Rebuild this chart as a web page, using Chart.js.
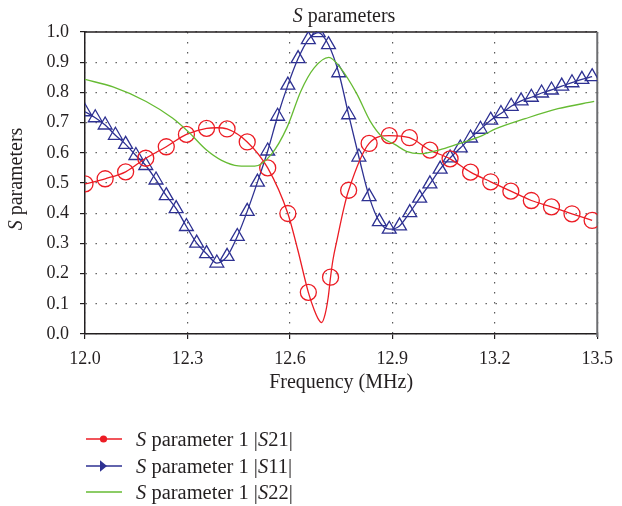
<!DOCTYPE html>
<html><head><meta charset="utf-8">
<script src="https://cdn.jsdelivr.net/npm/chart.js@4.4.1/dist/chart.umd.min.js"></script>
<style>
html,body{margin:0;padding:0;background:#fff;}
#wrap{position:relative;width:622px;height:506px;overflow:hidden;font-family:"Liberation Serif","DejaVu Serif",serif;color:#231f20;}
#c{position:absolute;left:0;top:0;}
.title{position:absolute;left:244px;top:3px;width:200px;text-align:center;font-size:20px;line-height:24px;white-space:nowrap;}
.ytitle{position:absolute;left:-85px;top:167px;width:200px;height:24px;text-align:center;font-size:20px;line-height:24px;transform:rotate(-90deg);white-space:nowrap;}
.leg{position:absolute;left:84px;width:320px;height:24px;line-height:24px;font-size:20.5px;white-space:nowrap;}
.leg svg{position:absolute;left:0;top:0;}
.leg span{position:absolute;left:52px;top:0;}
</style></head>
<body>
<div id="wrap">
<canvas id="c" width="622" height="506"></canvas>
<div class="title"><i>S</i> parameters</div>
<div class="ytitle"><i>S</i> parameters</div>
<div class="leg" style="top:427px"><svg width="44" height="24"><line x1="2" y1="12" x2="38" y2="12" stroke="#ec1c24" stroke-width="1.4"/><circle cx="19.5" cy="12" r="3.6" fill="#ec1c24"/></svg><span><i>S</i> parameter 1 |<i>S</i>21|</span></div>
<div class="leg" style="top:454px"><svg width="44" height="24"><line x1="2" y1="12" x2="38" y2="12" stroke="#2e3192" stroke-width="1.4"/><polygon points="16,6.2 23,12 16,17.8" fill="#2e3192"/></svg><span><i>S</i> parameter 1 |<i>S</i>11|</span></div>
<div class="leg" style="top:480px"><svg width="44" height="24"><line x1="2" y1="12" x2="38" y2="12" stroke="#66bb33" stroke-width="1.4"/></svg><span><i>S</i> parameter 1 |<i>S</i>22|</span></div>
</div>
<script>
// ---- data ----
const xTickValues = [12.0, 12.3, 12.6, 12.9, 13.2, 13.5];
const yTickValues = [0.0, 0.1, 0.2, 0.3, 0.4, 0.5, 0.6, 0.7, 0.8, 0.9, 1.0];

// |S21| markers (circles)
const s21MarkFreq = [12.000,12.059,12.119,12.178,12.238,12.297,12.356,12.416,12.475,12.535,12.594,12.654,12.719,12.772,12.832,12.891,12.950,13.010,13.069,13.129,13.188,13.247,13.307,13.366,13.426,13.485];
const s21Mark     = [0.497,0.514,0.537,0.582,0.620,0.661,0.681,0.679,0.636,0.550,0.399,0.138,0.188,0.476,0.631,0.657,0.650,0.609,0.580,0.536,0.504,0.473,0.442,0.421,0.398,0.376];
// |S21| curve
const s21LineFreq = [12.000,12.059,12.119,12.178,12.238,12.297,12.356,12.386,12.416,12.475,12.535,12.594,12.623,12.654,12.671,12.682,12.693,12.703,12.712,12.719,12.726,12.738,12.758,12.772,12.832,12.891,12.950,13.010,13.069,13.129,13.188,13.247,13.307,13.366,13.426,13.485];
const s21Line     = [0.497,0.514,0.537,0.582,0.620,0.661,0.681,0.683,0.679,0.636,0.550,0.399,0.279,0.138,0.080,0.052,0.038,0.065,0.120,0.188,0.245,0.312,0.417,0.476,0.631,0.657,0.650,0.609,0.580,0.536,0.504,0.473,0.442,0.421,0.398,0.376];

// |S11| (triangles)
const s11Freq = [12.000,12.030,12.059,12.089,12.119,12.149,12.178,12.208,12.238,12.267,12.297,12.327,12.356,12.386,12.416,12.446,12.475,12.505,12.535,12.564,12.594,12.624,12.654,12.683,12.713,12.743,12.772,12.802,12.832,12.862,12.891,12.921,12.951,12.980,13.010,13.040,13.069,13.099,13.129,13.158,13.188,13.218,13.248,13.277,13.307,13.337,13.366,13.396,13.426,13.455,13.485];
const s11     = [0.736,0.716,0.692,0.658,0.628,0.591,0.558,0.510,0.458,0.415,0.356,0.301,0.266,0.235,0.257,0.323,0.406,0.503,0.606,0.721,0.824,0.912,0.975,0.998,0.958,0.865,0.726,0.586,0.455,0.372,0.347,0.358,0.402,0.450,0.497,0.546,0.583,0.616,0.649,0.678,0.708,0.730,0.754,0.772,0.784,0.798,0.808,0.821,0.832,0.843,0.852];

// |S22| curve
const s22Freq = [12.000,12.082,12.179,12.256,12.304,12.355,12.400,12.449,12.497,12.545,12.592,12.632,12.671,12.714,12.748,12.796,12.835,12.874,12.907,12.941,12.980,13.038,13.086,13.163,13.202,13.289,13.385,13.491];
const s22     = [0.843,0.818,0.770,0.715,0.668,0.610,0.575,0.557,0.556,0.594,0.685,0.804,0.881,0.916,0.881,0.795,0.705,0.648,0.628,0.605,0.597,0.610,0.627,0.657,0.679,0.713,0.746,0.770];

// ---- styling ----
const RED = '#ec1c24', BLUE = '#2e3192', GREEN = '#66bb33', INK = '#231f20';
const FONT = '"Liberation Serif", "DejaVu Serif", serif';
const pts = (xs, ys) => xs.map((x, i) => ({x: x, y: ys[i]}));

const framePlugin = {
  id: 'frame',
  beforeDatasetsDraw(chart) {
    const {ctx, chartArea: a} = chart;
    ctx.save();
    ctx.strokeStyle = INK; ctx.lineWidth = 1.5;
    ctx.beginPath(); ctx.moveTo(a.left, a.top); ctx.lineTo(a.right, a.top); ctx.stroke();
    ctx.strokeStyle = '#6d6e71'; ctx.lineWidth = 2;
    ctx.beginPath(); ctx.moveTo(a.right, a.top); ctx.lineTo(a.right, a.bottom + 3); ctx.stroke();
    ctx.restore();
  }
};

new Chart(document.getElementById('c'), {
  type: 'scatter',
  data: { datasets: [
    { label: '|S22|', data: pts(s22Freq, s22), showLine: true, borderColor: GREEN, borderWidth: 1.3,
      pointRadius: 0, cubicInterpolationMode: 'monotone' },
    { label: '|S21| curve', data: pts(s21LineFreq, s21Line), showLine: true, borderColor: RED, borderWidth: 1.3,
      pointRadius: 0, cubicInterpolationMode: 'monotone' },
    { label: '|S21|', data: pts(s21MarkFreq, s21Mark), showLine: false, pointStyle: 'circle', pointRadius: 8,
      pointBorderColor: RED, pointBorderWidth: 1.3, pointBackgroundColor: 'rgba(0,0,0,0)' },
    { label: '|S11|', data: pts(s11Freq, s11), showLine: true, borderColor: BLUE, borderWidth: 1.3,
      cubicInterpolationMode: 'monotone', pointStyle: 'triangle', pointRadius: 8,
      pointBorderColor: BLUE, pointBorderWidth: 1.3, pointBackgroundColor: 'rgba(0,0,0,0)' }
  ]},
  options: {
    responsive: false, animation: false, devicePixelRatio: 1,
    layout: { padding: { left: 0, right: 19, top: 32, bottom: 110 } },
    plugins: { legend: { display: false }, tooltip: { enabled: false }, title: { display: false } },
    scales: {
      x: {
        type: 'linear', min: 12, max: 13.5,
        afterBuildTicks: s => { s.ticks = xTickValues.map(v => ({ value: v })); },
        afterFit: s => { s.height = 62; },
        grid: { color: '#5a5a5a', lineWidth: 1.2, tickLength: 5, tickColor: INK, tickWidth: 1.2, tickBorderDash: [] },
        border: { display: true, color: INK, width: 1.5, dash: [1.4, 8.6] },
        ticks: { color: INK, font: { family: FONT, size: 18 }, padding: 9, maxRotation: 0,
                 callback: v => Number(v).toFixed(1) },
        title: { display: true, text: 'Frequency (MHz)', color: INK, font: { family: FONT, size: 20 },
                 padding: { top: 0, bottom: 1 } }
      },
      y: {
        type: 'linear', min: 0, max: 1,
        afterBuildTicks: s => { s.ticks = yTickValues.map(v => ({ value: v })); },
        afterFit: s => { s.width = 85; },
        grid: { color: '#5a5a5a', lineWidth: 1.2, tickLength: 5, tickColor: INK, tickWidth: 1.2, tickBorderDash: [] },
        border: { display: true, color: INK, width: 1.5, dash: [1.4, 8.6] },
        ticks: { color: INK, font: { family: FONT, size: 18 }, padding: 11,
                 callback: v => Number(v).toFixed(1) }
      }
    }
  },
  plugins: [framePlugin]
});
</script>
</body></html>
